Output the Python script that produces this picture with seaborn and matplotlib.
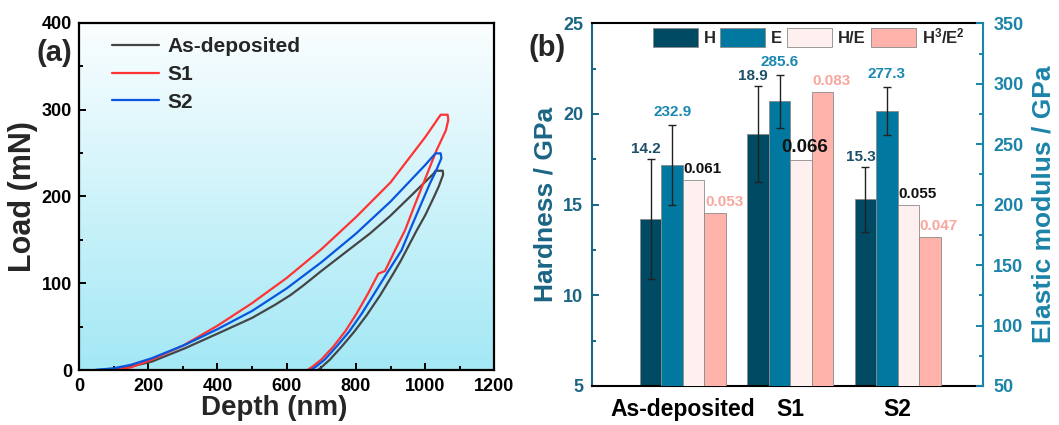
import numpy as np
import pandas as pd
import matplotlib
matplotlib.use("Agg")
import matplotlib.pyplot as plt
from matplotlib.colors import LinearSegmentedColormap
from matplotlib.patches import Patch
from matplotlib.ticker import MultipleLocator, AutoMinorLocator
import seaborn as sns

# ---- (a) load-depth curves (loading then unloading)
depth_as = [50, 100, 150, 210, 306, 412, 500, 566, 610, 647, 700, 778, 840, 898, 960, 1024, 1030, 1051,
            1052, 1040, 1024, 1000, 976, 951, 930, 908, 870, 831, 795, 759, 725, 700, 690]
load_as = [0, 1, 4, 9.6, 25, 44, 60, 75, 86, 97, 114, 138, 157, 177, 201, 226, 229.5, 229.5,
           225, 212, 198, 178, 161, 142, 126, 111, 86, 63, 44, 27, 12, 3, 0]

depth_s1 = [105, 150, 210, 300, 400, 500, 600, 700, 800, 900, 1000, 1045, 1065,
            1067, 1060, 1033, 995, 970, 942, 918, 884, 865, 835, 802, 770, 735, 700, 675, 660]
load_s1 = [0, 3, 12, 28, 51, 77, 106, 139, 176, 216, 268, 294, 294,
           288, 276, 253, 215, 190, 161, 142, 114, 111, 88, 65, 45, 27, 12, 4, 0]

depth_s2 = [46, 100, 150, 210, 306, 400, 500, 600, 700, 800, 900, 1000, 1030, 1045,
            1047, 1030, 1014, 985, 956, 932, 889, 850, 817, 780, 744, 710, 685, 670]
load_s2 = [0, 2, 6, 13.5, 29, 47, 68, 94, 124, 157, 194, 236, 249.5, 249.5,
           244, 228, 215, 188, 161, 138, 111, 86, 65, 44, 27, 12, 4, 0]

curve_names = ["As-deposited", "S1", "S2"]
curve_colors = ["#454545", "#ff3333", "#0a55e0"]

# ---- (b) mechanical properties
samples = ["As-deposited", "S1", "S2"]
hardness = [14.2, 18.9, 15.3]
hardness_err = [3.3, 2.65, 1.8]
modulus = [232.9, 285.6, 277.3]
modulus_err = [33, 22, 20]
h_over_e = [0.061, 0.066, 0.055]
h3_over_e2 = [0.053, 0.083, 0.047]

metrics = ["H", "E", "H/E", "H3/E2"]
metric_labels = ["H", "E", "H/E", "H$^3$/E$^2$"]
bar_colors = {"H": "#004a63", "E": "#00789f", "H/E": "#fff0f0", "H3/E2": "#ffb3aa"}
text_colors = {"H": "#1d4f68", "E": "#1a88b0", "H/E": "#111111", "H3/E2": "#f7a89e"}
left_col = "#1b6585"
right_col = "#1b84a8"

sns.set_style("ticks")
plt.rcParams["font.family"] = ["Liberation Sans", "DejaVu Sans"]
plt.rcParams["font.weight"] = "bold"
plt.rcParams["axes.labelweight"] = "bold"
plt.rcParams["mathtext.fontset"] = "custom"
plt.rcParams["mathtext.rm"] = "Liberation Sans"
plt.rcParams["mathtext.bf"] = "Liberation Sans:bold"
plt.rcParams["mathtext.default"] = "bf"

fig = plt.figure(figsize=(10.59, 4.25), dpi=100)
ax_a = fig.add_axes([0.0746, 0.1294, 0.3922, 0.8172])
ax_h = fig.add_axes([0.5587, 0.0918, 0.3700, 0.8534])

# ---------------- panel (a)
grad = LinearSegmentedColormap.from_list("bg", ["#a3e8f5", "#fbfeff"])
ax_a.imshow(np.linspace(0, 1, 256).reshape(-1, 1), extent=[0, 1200, 0, 400],
            origin="lower", aspect="auto", cmap=grad, zorder=0)

curves = pd.concat([
    pd.DataFrame({"depth": depth_as, "load": load_as, "sample": "As-deposited"}),
    pd.DataFrame({"depth": depth_s1, "load": load_s1, "sample": "S1"}),
    pd.DataFrame({"depth": depth_s2, "load": load_s2, "sample": "S2"}),
])
for name, col in zip(curve_names, curve_colors):
    sub = curves[curves["sample"] == name]
    sns.lineplot(data=sub, x="depth", y="load", color=col, sort=False, estimator=None,
                 linewidth=1.6, ax=ax_a, label=name)

ax_a.set_xlim(0, 1200)
ax_a.set_ylim(0, 400)
ax_a.xaxis.set_major_locator(MultipleLocator(200))
ax_a.xaxis.set_minor_locator(MultipleLocator(100))
ax_a.yaxis.set_major_locator(MultipleLocator(100))
ax_a.yaxis.set_minor_locator(MultipleLocator(50))
ax_a.tick_params(which="both", direction="in", width=1.4, colors="black", labelsize=13)
ax_a.tick_params(which="major", length=5)
ax_a.tick_params(which="minor", length=3)
ax_a.tick_params(axis="x", pad=6)
ax_a.tick_params(axis="y", pad=5)
for sp in ax_a.spines.values():
    sp.set_linewidth(1.6)
    sp.set_color("black")
ax_a.set_xlabel("Depth (nm)", fontsize=20, labelpad=0)
ax_a.xaxis.set_label_coords(0.47, -0.072)
ax_a.set_ylabel("Load (mN)", fontsize=22, labelpad=3)
leg = ax_a.legend(loc="upper left", bbox_to_anchor=(0.06, 0.982), frameon=False,
                  fontsize=15, handlelength=2.25, handletextpad=0.4, labelspacing=0.42,
                  borderaxespad=0.0)
for h in leg.get_lines():
    h.set_linewidth(1.6)

# ---------------- panel (b)
ax_e = ax_h.twinx()
ax_r = ax_h.twinx()

df_h = pd.DataFrame({"sample": samples, "metric": "H", "value": hardness})
df_e = pd.DataFrame({"sample": samples, "metric": "E", "value": modulus})
df_r = pd.concat([
    pd.DataFrame({"sample": samples, "metric": "H/E", "value": h_over_e}),
    pd.DataFrame({"sample": samples, "metric": "H3/E2", "value": h3_over_e2}),
])

bar_kw = dict(x="sample", y="value", hue="metric", hue_order=metrics, order=samples,
              palette=bar_colors, errorbar=None, legend=False, width=0.8, dodge=True,
              saturation=1, edgecolor="#8a8a8a", linewidth=0.6)
sns.barplot(data=df_h, ax=ax_h, **bar_kw)
sns.barplot(data=df_e, ax=ax_e, **bar_kw)
sns.barplot(data=df_r, ax=ax_r, **bar_kw)

ax_h.set_ylim(5, 25)
ax_e.set_ylim(50, 350)
ax_r.set_ylim(0.01, 0.1)
for ax in (ax_h, ax_e, ax_r):
    ax.set_xlim(-0.85, 2.8)


def centers(ax):
    return [p.get_x() + p.get_width() / 2 for p in ax.patches]


xh = centers(ax_h)
xe = centers(ax_e)
ax_h.errorbar(xh, hardness, yerr=hardness_err, fmt="none", ecolor="#222222",
              elinewidth=1.0, capsize=3, capthick=1.0)
ax_e.errorbar(xe, modulus, yerr=modulus_err, fmt="none", ecolor="#222222",
              elinewidth=1.0, capsize=3, capthick=1.0)

for x, v, e in zip(xh, hardness, hardness_err):
    ax_h.annotate(f"{v:.1f}", (x, v + e), xytext=(-5, 3), textcoords="offset pixels",
                  ha="center", va="bottom", fontsize=11, color=text_colors["H"])
for x, v, e in zip(xe, modulus, modulus_err):
    ax_e.annotate(f"{v:.1f}", (x, v + e), xytext=(0, 6), textcoords="offset pixels",
                  ha="center", va="bottom", fontsize=11, color=text_colors["E"])

xr = centers(ax_r)
ratio_vals = h_over_e + h3_over_e2
ratio_keys = ["H/E"] * 3 + ["H3/E2"] * 3
for i, (x, v, k) in enumerate(zip(xr, ratio_vals, ratio_keys)):
    big = (k == "H/E" and i == 1)
    ax_r.annotate(f"{v:.3f}", (x, v), xytext=(4 if big else 9, 4), textcoords="offset pixels",
                  ha="center", va="bottom", fontsize=13.5 if big else 11, color=text_colors[k])

# axes styling
ax_h.set_xlabel("")
ax_h.set_ylabel("Hardness / GPa", fontsize=19, color=left_col, labelpad=4)
ax_e.set_ylabel("Elastic modulus / GPa", fontsize=19, color=right_col, labelpad=6)
ax_h.yaxis.set_major_locator(MultipleLocator(5))
ax_h.yaxis.set_minor_locator(AutoMinorLocator(2))
ax_e.yaxis.set_major_locator(MultipleLocator(50))
ax_e.yaxis.set_minor_locator(AutoMinorLocator(2))
ax_h.set_xticks(range(len(samples)))
ax_h.set_xticklabels(samples)
ax_h.tick_params(axis="x", direction="in", length=4, width=1.5, labelsize=16.5, pad=9, colors="black")
ax_h.tick_params(axis="y", which="both", direction="in", width=1.4, colors=left_col, labelsize=13, pad=6)
ax_h.tick_params(axis="y", which="major", length=5)
ax_h.tick_params(axis="y", which="minor", length=3)
ax_e.tick_params(axis="y", which="both", direction="in", width=1.4, colors=right_col, labelsize=13, pad=7)
ax_e.tick_params(axis="y", which="major", length=5)
ax_e.tick_params(axis="y", which="minor", length=3)
ax_e.tick_params(axis="x", bottom=False, labelbottom=False)
ax_r.tick_params(axis="x", bottom=False, labelbottom=False)
ax_r.set_yticks([])
ax_r.set_ylabel("")
ax_r.set_xlabel("")
ax_e.set_xlabel("")
for sp in ax_r.spines.values():
    sp.set_visible(False)
for sp in ax_e.spines.values():
    sp.set_visible(False)
ax_e.spines["right"].set_visible(True)
ax_e.spines["right"].set_color(right_col)
ax_e.spines["right"].set_linewidth(1.5)
for name, sp in ax_h.spines.items():
    sp.set_linewidth(1.5)
    sp.set_color("black")
ax_h.spines["left"].set_color(left_col)
ax_h.spines["right"].set_visible(False)

handles = [Patch(facecolor=bar_colors[m], edgecolor="#8a8a8a", linewidth=0.6) for m in metrics]
ax_r.legend(handles, metric_labels, loc="upper left", bbox_to_anchor=(0.13, 1.02), ncol=4,
            frameon=False, fontsize=12, handlelength=2.7, handleheight=1.4,
            handletextpad=0.35, columnspacing=0.3, borderaxespad=0.2)

fig.text(0.034, 0.875, "(a)", fontsize=21, va="center", ha="left")
fig.text(0.499, 0.888, "(b)", fontsize=21, va="center", ha="left")

fig.savefig("out.png", dpi=100)
